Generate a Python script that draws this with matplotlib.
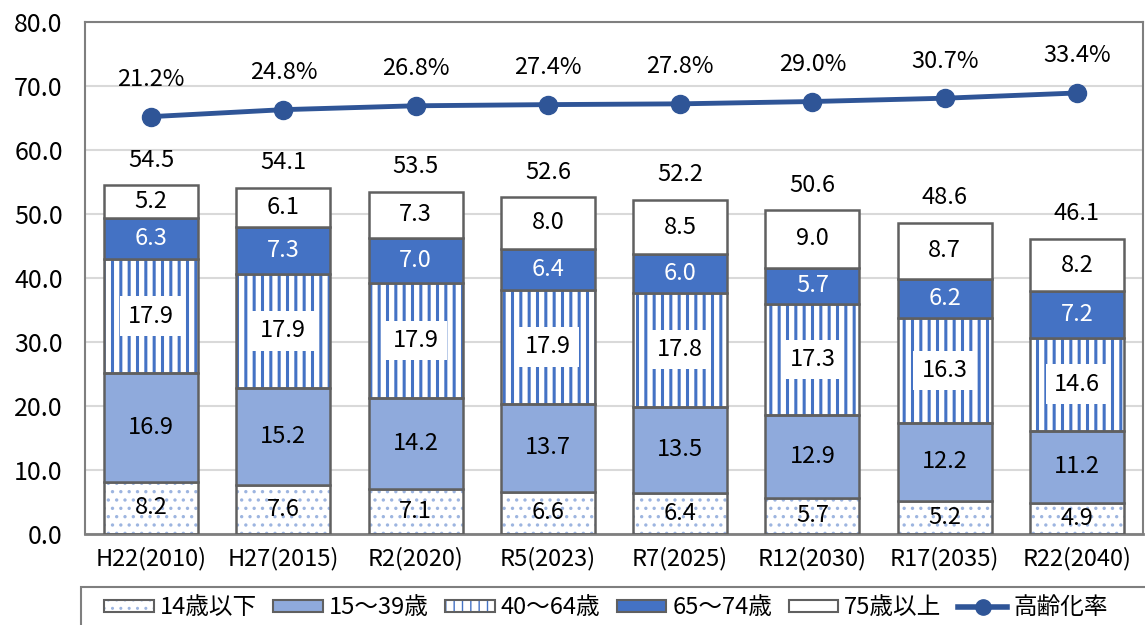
import matplotlib
matplotlib.use("Agg")
import matplotlib.pyplot as plt
from matplotlib.patches import Patch, Rectangle
from matplotlib.lines import Line2D
import numpy as np

categories = ["H22(2010)", "H27(2015)", "R2(2020)", "R5(2023)",
              "R7(2025)", "R12(2030)", "R17(2035)", "R22(2040)"]
age_0_14 = [8.2, 7.6, 7.1, 6.6, 6.4, 5.7, 5.2, 4.9]
age_15_39 = [16.9, 15.2, 14.2, 13.7, 13.5, 12.9, 12.2, 11.2]
age_40_64 = [17.9, 17.9, 17.9, 17.9, 17.8, 17.3, 16.3, 14.6]
age_65_74 = [6.3, 7.3, 7.0, 6.4, 6.0, 5.7, 6.2, 7.2]
age_75_up = [5.2, 6.1, 7.3, 8.0, 8.5, 9.0, 8.7, 8.2]
totals = [54.5, 54.1, 53.5, 52.6, 52.2, 50.6, 48.6, 46.1]
aging_rate = [21.2, 24.8, 26.8, 27.4, 27.8, 29.0, 30.7, 33.4]
series_names = ["14歳以下", "15～39歳", "40～64歳", "65～74歳", "75歳以上", "高齢化率"]
yticks = [0, 10, 20, 30, 40, 50, 60, 70, 80]

plt.rcParams["font.family"] = ["Noto Sans CJK JP", "DejaVu Sans"]

EDGE = "#606060"
C_DOT = "#9DB5E0"
C_1539 = "#8FAADC"
C_STRIPE = "#4472C4"
C_6574 = "#4472C4"
C_LINE = "#2F5597"

fig = plt.figure(figsize=(11.45, 6.25), dpi=100)
ax = fig.add_axes([85/1145, 1-534/625, (1143-85)/1145, (534-22)/625])

x = np.arange(len(categories))
w = 0.71

segments = [age_0_14, age_15_39, age_40_64, age_65_74, age_75_up]
bottom = np.zeros(len(categories))
for i, vals in enumerate(segments):
    vals = np.array(vals)
    if i == 0:
        with plt.rc_context({"hatch.linewidth": 1.2}):
            ax.bar(x, vals, w, bottom=bottom, color="white", edgecolor=C_DOT,
                   hatch="..", linewidth=0, zorder=2)
        ax.bar(x, vals, w, bottom=bottom, color="none", edgecolor=EDGE, linewidth=1.8, zorder=3)
    elif i == 2:
        with plt.rc_context({"hatch.linewidth": 2.2}):
            ax.bar(x, vals, w, bottom=bottom, color="white", edgecolor=C_STRIPE,
                   hatch="||", linewidth=0, zorder=2)
        ax.bar(x, vals, w, bottom=bottom, color="none", edgecolor=EDGE, linewidth=1.8, zorder=3)
    else:
        fc = {1: C_1539, 3: C_6574, 4: "white"}[i]
        ax.bar(x, vals, w, bottom=bottom, color=fc, edgecolor=EDGE, linewidth=1.8, zorder=3)
    for xi, b, v in zip(x, bottom, vals):
        kw = dict(ha="center", va="center", fontsize=17, zorder=5)
        kw["color"] = "white" if i == 3 else "black"
        if i == 2:
            kw["bbox"] = dict(boxstyle="square,pad=0.35", fc="white", ec="none")
        ax.text(xi, b + v/2, f"{v:.1f}", **kw)
    bottom = bottom + vals

for xi, t in zip(x, totals):
    ax.annotate(f"{t:.1f}", (xi, t), xytext=(0, 25), textcoords="offset pixels",
                ha="center", va="center", fontsize=17, zorder=5)

ax.set_ylim(0, 80)
ax.set_xlim(-0.5, len(categories) - 0.5)
ax.set_yticks(yticks)
ax.set_yticklabels([f"{v:.1f}" for v in yticks], fontsize=18)
ax.set_xticks(x)
ax.set_xticklabels(categories, fontsize=17)
ax.tick_params(length=0, pad=9)
ax.tick_params(axis="y", pad=16)
ax.grid(axis="y", color="#D9D9D9", linewidth=1.5, zorder=0)
ax.set_axisbelow(True)
for s in ax.spines.values():
    s.set_color("#7F7F7F")
    s.set_linewidth(1.5)
ax.spines["bottom"].set_linewidth(2)

ax2 = ax.twinx()
ax2.set_ylim(-194, 70)
ax2.plot(x, aging_rate, color=C_LINE, linewidth=3.5, marker="o", markersize=13, zorder=6)
for xi, r in zip(x, aging_rate):
    ax2.annotate(f"{r:.1f}%", (xi, r), xytext=(0, 37), textcoords="offset pixels",
                 ha="center", va="center", fontsize=17)
ax2.set_yticks([])
for s in ax2.spines.values():
    s.set_visible(False)

handles = [
    (Patch(facecolor="white", edgecolor=C_DOT, hatch="..", linewidth=0),
     Patch(facecolor="none", edgecolor=EDGE, linewidth=1.5)),
    Patch(facecolor=C_1539, edgecolor=EDGE, linewidth=1.5),
    (Patch(facecolor="white", edgecolor=C_STRIPE, hatch="||", linewidth=0),
     Patch(facecolor="none", edgecolor=EDGE, linewidth=1.5)),
    Patch(facecolor=C_6574, edgecolor=EDGE, linewidth=1.5),
    Patch(facecolor="white", edgecolor=EDGE, linewidth=1.5),
    Line2D([], [], color=C_LINE, linewidth=4, marker="o", markersize=11),
]
leg = fig.legend(handles, series_names, loc="center left",
                 bbox_to_anchor=(104/1145, 1-608/625),
                 ncol=6, fontsize=17, frameon=False,
                 handlelength=2.1, handleheight=0.4, handletextpad=0.25, columnspacing=0.7,
                 borderpad=0, borderaxespad=0)
fig.patches.append(Rectangle((81/1145, -0.1), 1.2, 0.1 + 1 - 587/625, transform=fig.transFigure,
                             fill=False, edgecolor="#7F7F7F", linewidth=1.5, zorder=0))

fig.savefig("out.png", dpi=100)
